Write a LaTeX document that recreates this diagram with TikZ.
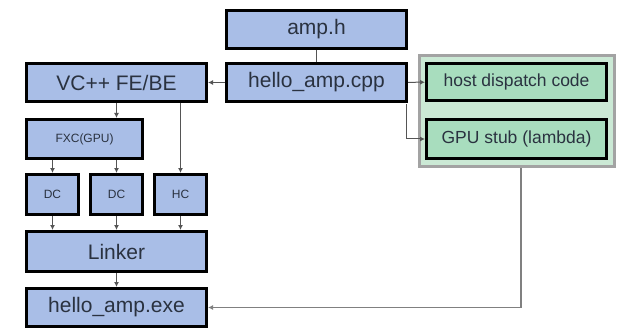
\documentclass[tikz,border=0pt]{standalone}
\usepackage{fontspec}
\setmainfont{Liberation Sans}
\usetikzlibrary{arrows.meta, fit, backgrounds}
\definecolor{boxBlue}{HTML}{A9BEE7}
\definecolor{boxGreen}{HTML}{A8DDBE}
\definecolor{groupGreen}{HTML}{CBE9D5}
\definecolor{groupGray}{HTML}{A3A3A3}
\definecolor{textDark}{HTML}{2A3240}
\definecolor{wireGray}{HTML}{555555}

\begin{document}
\begin{tikzpicture}[x=1pt, y=-1pt,
    blk/.style={rectangle, draw=black, line width=3pt, fill=boxBlue,
                minimum width=180pt, minimum height=38pt, inner sep=0pt,
                font=\fontsize{21}{24}\selectfont\color{textDark}},
    small/.style={blk, minimum width=52pt, minimum height=40pt,
                font=\fontsize{12}{14}\selectfont\color{textDark}},
    gblk/.style={blk, fill=boxGreen, minimum height=38pt,
                font=\fontsize{17.5}{20}\selectfont\color{textDark}},
    wire/.style={wireGray, line width=1pt},
    arr/.style={wire, -{Latex[length=5pt, width=5pt]}},
  ]
    \useasboundingbox (0,0) rectangle (617,331);

    \node[blk] (amph)   at (316.5, 29.5) {amp.h};
    \node[blk] (cpp)    at (316.5, 82.5) {hello\_amp.cpp};
    \node[blk] (febe)   at (116.5, 82.5) {VC++ FE/BE};
    \node[small, minimum width=116pt, minimum height=39pt] (fxc)
      at (84.5, 139) {FXC(GPU)};
    \node[small] (dc1) at (52.5, 194.5) {DC};
    \node[small] (dc2) at (116.5, 194.5) {DC};
    \node[small] (hc)  at (180.5, 194.5) {HC};
    \node[blk, minimum height=40pt] (linker) at (116.5, 251.5) {Linker};
    \node[blk] (exe)    at (116.5, 307.5) {hello\_amp.exe};
    \node[gblk, minimum height=37pt] (host) at (516.5, 82) {host dispatch code};
    \node[gblk, minimum height=39pt] (stub) at (516.5, 139) {GPU stub (lambda)};

    \begin{scope}[on background layer]
      \node[draw=groupGray, line width=3pt, fill=groupGreen, inner sep=6pt,
            fit=(host)(stub)] (grp) {};
    \end{scope}

    \draw[wire] (amph) -- (cpp);
    \draw[arr] (cpp) -- (febe);
    \draw[arr] (cpp) -- (host);
    \draw[arr] (cpp.south east) ++(-1.5,1.5) coordinate (c1) |- (stub.west);
    \draw[arr] (febe) -- (fxc.north -| febe);
    \draw[arr] (febe.south -| hc) -- (hc);
    \draw[arr] (fxc.south -| dc1) -- (dc1);
    \draw[arr] (fxc.south -| dc2) -- (dc2);
    \draw[arr] (dc1) -- (linker.north -| dc1);
    \draw[arr] (dc2) -- (linker.north -| dc2);
    \draw[arr] (hc) -- (linker.north -| hc);
    \draw[arr] (linker) -- (exe);
    \draw[arr, color=gray, line width=1.5pt] (grp.south -| 521,0) |- (exe.east);
\end{tikzpicture}
\end{document}
